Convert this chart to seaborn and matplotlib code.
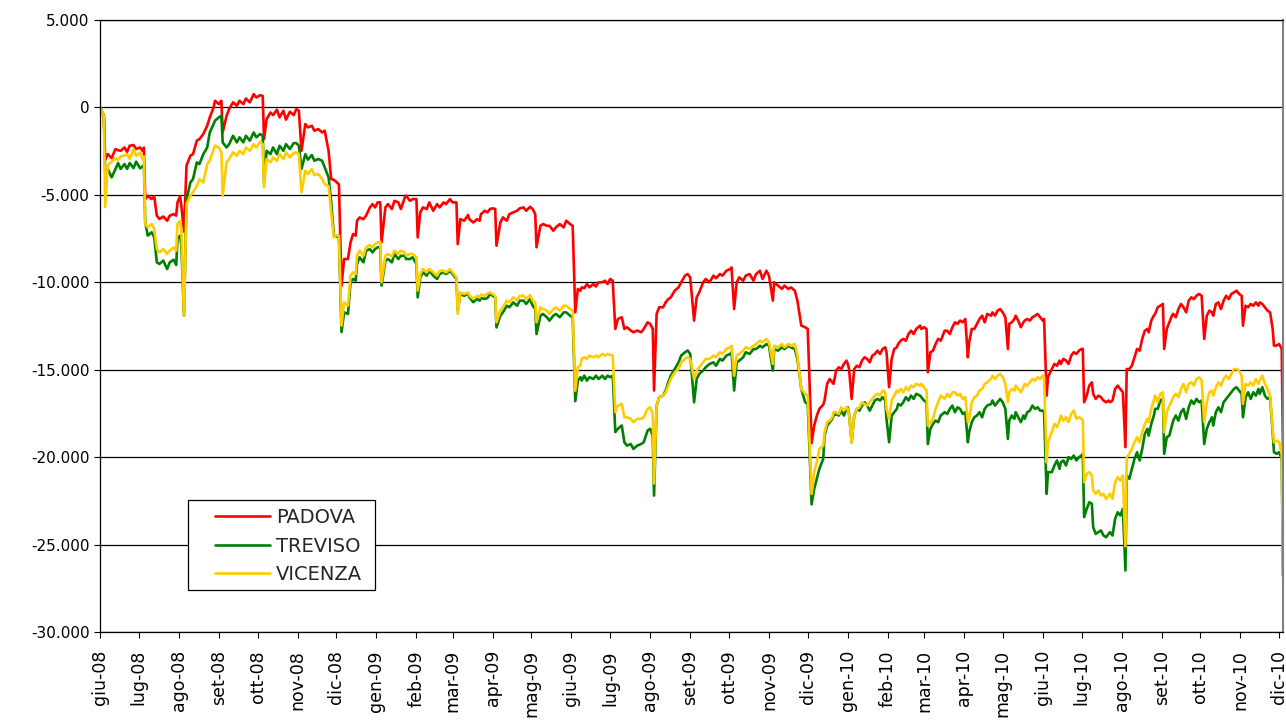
import pandas as pd
import numpy as np
import matplotlib
matplotlib.use("Agg")
import matplotlib.pyplot as plt
from matplotlib.patches import Rectangle
import seaborn as sns

# === Data ===
# giorni dal 1 giugno 2008
giorni = [
    0, 3, 4, 6, 9, 12, 14, 16, 19, 21, 23, 26, 28, 31, 33, 34, 35, 37, 40, 42,
    44, 46, 49, 52, 54, 57, 59, 60, 62, 63, 65, 67, 70, 72, 75, 77, 80, 83, 85, 88,
    89, 92, 94, 95, 98, 100, 103, 106, 108, 111, 113, 116, 119, 121, 124, 126, 127, 129, 132, 134,
    137, 139, 142, 144, 147, 150, 152, 154, 156, 159, 161, 164, 166, 169, 172, 174, 177, 179, 181, 182,
    185, 187, 189, 192, 194, 196, 198, 199, 201, 204, 206, 209, 211, 213, 215, 217, 218, 221, 223, 226,
    228, 231, 233, 236, 237, 240, 242, 245, 246, 248, 250, 253, 255, 258, 261, 263, 266, 268, 271, 273,
    276, 277, 279, 282, 285, 286, 289, 292, 294, 295, 298, 300, 302, 304, 306, 307, 310, 312, 315, 317,
    320, 323, 325, 328, 330, 333, 335, 337, 338, 341, 343, 346, 348, 351, 353, 356, 359, 361, 364, 366,
    368, 370, 372, 373, 375, 377, 379, 382, 384, 386, 389, 391, 393, 395, 397, 399, 401, 404, 406, 408,
    411, 413, 416, 419, 421, 424, 426, 428, 429, 431, 433, 436, 438, 440, 442, 445, 448, 450, 453, 455,
    457, 460, 462, 464, 467, 469, 472, 475, 477, 480, 482, 485, 488, 489, 491, 493, 495, 498, 500, 503,
    506, 508, 511, 513, 516, 518, 521, 522, 525, 528, 530, 533, 535, 538, 540, 543, 546, 548, 551, 553,
    555, 557, 560, 561, 563, 565, 567, 568, 570, 572, 574, 576, 578, 579, 580, 582, 584, 586, 588, 590,
    592, 594, 596, 598, 600, 602, 604, 606, 608, 609, 611, 613, 615, 617, 618, 620, 622, 624, 626, 628,
    630, 632, 635, 636, 638, 640, 641, 643, 645, 647, 649, 651, 654, 656, 658, 660, 662, 664, 666, 668,
    670, 672, 673, 675, 677, 679, 681, 683, 685, 687, 690, 691, 693, 695, 697, 699, 701, 703, 704, 706,
    708, 709, 711, 713, 715, 716, 718, 720, 722, 724, 726, 728, 730, 731, 733, 734, 737, 739, 741, 743,
    744, 746, 748, 750, 752, 754, 756, 758, 760, 761, 762, 764, 766, 768, 769, 771, 773, 775, 777, 779,
    781, 782, 784, 786, 788, 790, 792, 794, 795, 797, 799, 801, 803, 805, 807, 809, 811, 812, 814, 816,
    817, 819, 821, 823, 824, 826, 828, 830, 831, 833, 835, 837, 839, 841, 843, 845, 847, 849, 851, 853,
    855, 857, 859, 861, 862, 864, 866, 868, 870, 872, 874, 876, 878, 880, 882, 884, 885, 887, 889, 891,
    893, 895, 897, 898, 900, 902, 904, 906, 908, 909, 911, 913, 915, 916,
]

padova = [
    0, -480, -3000, -2670, -2900, -2380, -2450, -2480, -2290, -2540, -2190, -2150, -2380, -2290, -2480, -2300, -5240, -5050, -5240, -5090,
    -6190, -6380, -6240, -6480, -6190, -6100, -6190, -5430, -5090, -5620, -7100, -3330, -2760, -2670, -1900, -1810, -1520, -1050, -570, 0,
    380, 190, 380, -1430, -480, -95, 290, 95, 380, 190, 510, 290, 760, 570, 700, 660, -1810, -670, -290, -440,
    -130, -570, -190, -700, -250, -440, -95, -190, -2480, -950, -1140, -1050, -1330, -1240, -1430, -1330, -2480, -4100, -4140, -4190,
    -4400, -10200, -8670, -8670, -7720, -7240, -7330, -6480, -6290, -6390, -6190, -5720, -5530, -5720, -5430, -5430, -7720, -5720, -5530, -5810,
    -5340, -5430, -5810, -5150, -5050, -5340, -5240, -5240, -7430, -6000, -5720, -5810, -5430, -5910, -5530, -5720, -5430, -5530, -5240, -5430,
    -5430, -7820, -6390, -6480, -6150, -6390, -6580, -6390, -6480, -6100, -5910, -6000, -5810, -5770, -5810, -7910, -6580, -6290, -6480, -6100,
    -6000, -5910, -5770, -5720, -5910, -5680, -5810, -6100, -8000, -6770, -6670, -6770, -6770, -7050, -6860, -6670, -6860, -6480, -6670, -6770,
    -11720, -10380, -10480, -10290, -10340, -10100, -10290, -10100, -10240, -10000, -10000, -9910, -10100, -9810, -9910, -12670, -12100, -12000, -12670, -12570,
    -12760, -12860, -12760, -12860, -12670, -12290, -12380, -12670, -16190, -11810, -11430, -11430, -11150, -10960, -10860, -10480, -10290, -10000, -9620, -9530,
    -9720, -12190, -10860, -10580, -10000, -9810, -10000, -9620, -9770, -9530, -9620, -9340, -9240, -9150, -11530, -10000, -9720, -9910, -9620, -9530,
    -9910, -9530, -9340, -9810, -9340, -9620, -11050, -10000, -10190, -10380, -10190, -10380, -10290, -10480, -11050, -12480, -12570, -12670, -19200, -18200,
    -17640, -17240, -17000, -16760, -15810, -15530, -15720, -15810, -15050, -14860, -14960, -14670, -14480, -14670, -14960, -16670, -14960, -14770, -14860, -14480,
    -14290, -14380, -14580, -14190, -14100, -13910, -14100, -13810, -13720, -14000, -16000, -14380, -13810, -13720, -13530, -13340, -13240, -13340, -12960, -12770,
    -12960, -12670, -12480, -12670, -12570, -12670, -15150, -14000, -13910, -13530, -13240, -13340, -12770, -12770, -12960, -12570, -12290, -12380, -12190, -12290,
    -12100, -14290, -13430, -12670, -12670, -12380, -12100, -11910, -12290, -11810, -11910, -11720, -11910, -11620, -11530, -11720, -12000, -13810, -12380, -12290,
    -12100, -11910, -12190, -12570, -12290, -12190, -12100, -12190, -12000, -11910, -11810, -12000, -12190, -12100, -16480, -15430, -14960, -14670, -14770, -14480,
    -14670, -14380, -14480, -14670, -14190, -14000, -14100, -13910, -13810, -13810, -16860, -16480, -15910, -15720, -16380, -16670, -16480, -16570, -16760, -16860,
    -16760, -16860, -16760, -16100, -15910, -16100, -16290, -19430, -14960, -14960, -14770, -14290, -13810, -13910, -13240, -12770, -12670, -12860, -12190, -11910,
    -11810, -11430, -11340, -11240, -13810, -12670, -12290, -11910, -11810, -12000, -11530, -11240, -11430, -11720, -11050, -10860, -10960, -10770, -10670, -10770,
    -13240, -11910, -11620, -11720, -11910, -11240, -11150, -11530, -11050, -10770, -10960, -10670, -10580, -10480, -10670, -10770, -12480, -11340, -11430, -11240,
    -11340, -11150, -11340, -11150, -11240, -11430, -11620, -11720, -12670, -13620, -13620, -13530, -13810, -19700,
]

treviso = [
    0, -480, -3700, -3520, -4000, -3520, -3180, -3520, -3240, -3520, -3180, -3470, -3100, -3480, -3370, -3300, -6570, -7330, -7140, -7430,
    -8860, -8950, -8760, -9240, -8860, -8710, -9010, -7520, -7330, -7900, -11900, -5240, -4290, -4100, -3140, -3240, -2670, -2290, -1430, -950,
    -760, -570, -480, -2000, -2290, -2100, -1620, -2000, -1710, -2000, -1620, -1900, -1430, -1710, -1520, -1620, -4300, -2480, -2670, -2290,
    -2670, -2190, -2480, -2100, -2380, -2040, -2040, -2190, -3520, -2670, -2990, -2720, -3050, -2950, -3050, -3430, -4000, -5430, -7240, -7340,
    -7430, -12850, -11720, -11810, -10000, -9810, -9910, -8950, -8570, -8860, -8200, -8100, -8290, -8100, -8000, -8000, -10190, -8770, -8670, -8860,
    -8380, -8670, -8480, -8480, -8670, -8670, -8570, -8950, -10860, -9720, -9430, -9620, -9340, -9620, -9810, -9530, -9430, -9530, -9340, -9530,
    -9810, -11620, -10670, -10770, -10670, -10860, -11140, -10950, -11050, -10900, -10950, -10900, -10670, -10770, -10860, -12580, -11910, -11720, -11340, -11430,
    -11150, -11340, -11050, -11050, -11240, -10960, -11340, -11530, -12960, -11910, -11810, -12000, -12190, -11910, -11810, -12000, -11720, -11720, -11910, -12000,
    -16800, -15620, -15430, -15620, -15340, -15620, -15430, -15530, -15340, -15530, -15340, -15530, -15340, -15430, -15340, -18570, -18380, -18190, -19150, -19340,
    -19250, -19530, -19340, -19250, -19150, -18480, -18380, -18770, -22200, -17050, -16570, -16480, -16190, -15720, -15340, -14960, -14580, -14190, -14000, -13900,
    -14100, -16860, -15530, -15240, -15050, -14860, -14670, -14580, -14770, -14380, -14480, -14190, -14100, -14000, -16190, -14580, -14480, -14290, -14000, -14100,
    -13820, -13820, -13630, -13720, -13530, -13630, -15050, -13820, -13910, -13720, -13820, -13630, -13720, -13820, -14380, -16100, -16860, -16960, -22700, -21820,
    -21240, -20670, -20100, -18770, -18200, -18000, -17810, -17620, -17530, -17620, -17340, -17620, -17240, -17150, -17530, -19150, -17620, -17240, -17340, -17050,
    -16860, -17050, -17340, -17050, -16760, -16670, -16760, -16570, -16760, -17810, -19150, -17620, -17430, -17240, -16960, -17050, -16860, -16570, -16760, -16480,
    -16670, -16380, -16480, -16570, -16760, -16860, -19250, -18380, -18100, -17910, -18000, -17620, -17430, -17530, -17240, -17050, -17430, -17150, -17240, -17530,
    -17430, -19150, -18570, -18000, -17720, -17620, -17430, -17720, -17240, -17050, -16960, -16760, -17050, -16860, -16670, -16860, -17240, -18960, -17910, -17620,
    -17810, -17430, -17720, -18000, -17620, -17810, -17430, -17340, -17050, -17240, -17150, -17340, -17340, -17430, -22100, -20860, -20860, -20480, -20190, -20670,
    -20290, -20190, -20480, -20000, -20100, -19910, -20190, -20000, -19910, -19810, -23430, -22960, -22580, -22670, -24000, -24390, -24290, -24190, -24480, -24580,
    -24390, -24290, -24480, -23530, -23150, -23340, -22960, -26480, -21050, -21240, -20670, -20100, -19720, -20190, -19530, -18670, -18380, -18770, -18100, -17620,
    -17240, -17240, -16760, -16670, -19810, -18860, -18770, -18190, -17910, -17620, -17910, -17430, -17240, -17810, -17150, -16760, -16960, -16670, -16860, -16760,
    -19250, -18380, -18000, -17720, -18190, -17430, -17150, -17430, -16860, -16670, -16480, -16290, -16100, -16000, -16190, -16380, -17720, -16580, -16290, -16670,
    -16290, -16480, -16100, -16380, -16000, -16480, -16670, -16580, -18570, -19720, -19810, -19720, -20100, -26800,
]

vicenza = [
    0, -480, -5700, -3300, -3100, -2900, -3000, -2800, -2750, -2670, -2950, -2380, -2760, -2570, -2950, -2800, -6670, -6860, -6670, -6950,
    -8100, -8290, -8100, -8380, -8190, -8000, -8190, -6670, -6480, -6950, -11900, -5520, -5050, -4860, -4480, -4100, -4290, -3240, -3050, -2380,
    -2190, -2290, -2570, -5050, -3140, -2950, -2570, -2760, -2480, -2670, -2290, -2480, -2100, -2290, -1960, -2100, -4570, -2950, -3140, -2860,
    -3050, -2670, -2950, -2570, -2860, -2610, -2570, -2670, -4860, -3620, -3810, -3520, -3870, -3810, -4100, -4380, -4500, -6000, -7430, -7300,
    -7340, -12480, -11150, -11340, -9620, -9430, -9530, -8480, -8190, -8480, -8000, -7870, -8000, -7810, -7720, -7680, -10000, -8480, -8380, -8520,
    -8190, -8380, -8190, -8290, -8480, -8380, -8380, -8570, -10480, -9530, -9240, -9430, -9240, -9430, -9620, -9340, -9340, -9430, -9240, -9430,
    -9720, -11810, -10580, -10670, -10580, -10770, -10950, -10770, -10860, -10700, -10770, -10650, -10580, -10670, -10770, -12290, -11620, -11430, -11050, -11150,
    -10860, -11050, -10770, -10770, -10950, -10730, -11050, -11150, -12290, -11430, -11530, -11620, -11810, -11530, -11430, -11620, -11340, -11340, -11530, -11620,
    -16200, -14860, -14770, -14380, -14290, -14380, -14190, -14290, -14190, -14290, -14100, -14190, -14100, -14150, -14190, -17430, -17050, -16960, -17720, -17720,
    -17810, -18000, -17810, -17810, -17720, -17240, -17150, -17530, -21500, -17050, -16570, -16480, -16290, -15910, -15530, -15150, -14960, -14580, -14380, -14290,
    -14380, -15530, -15050, -14860, -14580, -14380, -14380, -14190, -14290, -14000, -14100, -13810, -13720, -13630, -15340, -14190, -14100, -13910, -13720, -13810,
    -13630, -13530, -13340, -13430, -13240, -13430, -14670, -13630, -13720, -13530, -13720, -13530, -13630, -13530, -14190, -16100, -16380, -16480, -22100, -20860,
    -20290, -19530, -19340, -18570, -18000, -17910, -17720, -17430, -17430, -17530, -17150, -17340, -17150, -17240, -17620, -19150, -17620, -17240, -17150, -16860,
    -16960, -17050, -16860, -16670, -16480, -16380, -16480, -16190, -16290, -17240, -17800, -16760, -16480, -16190, -16290, -16100, -16290, -16000, -16190, -15910,
    -16000, -15810, -15910, -15810, -16000, -16190, -18200, -18000, -17810, -17240, -16860, -16480, -16670, -16380, -16570, -16290, -16290, -16480, -16380, -16670,
    -16570, -18000, -17810, -16860, -16570, -16480, -16190, -16100, -15810, -15720, -15530, -15340, -15530, -15340, -15240, -15430, -15810, -16860, -16290, -16100,
    -16190, -15910, -16100, -16290, -16000, -15810, -15910, -15720, -15530, -15620, -15430, -15530, -15340, -15430, -20300, -19150, -18570, -18100, -18290, -17910,
    -17620, -17910, -17720, -18000, -17530, -17340, -17810, -17720, -17810, -17910, -21430, -20960, -20860, -21050, -21910, -22100, -21910, -22200, -22100, -22390,
    -22200, -22100, -22390, -21430, -21150, -21340, -21050, -25100, -20000, -19810, -19530, -19150, -18860, -19150, -18570, -18100, -17810, -18000, -17240, -16760,
    -16480, -16860, -16380, -16290, -18570, -17430, -17050, -16760, -16570, -16380, -16570, -16100, -15810, -16290, -15810, -15720, -15910, -15530, -15430, -15620,
    -18000, -16860, -16290, -16190, -16480, -16000, -15720, -15910, -15530, -15340, -15530, -15240, -14960, -14960, -15050, -15340, -16960, -15810, -15910, -15720,
    -15910, -15530, -15810, -15620, -15340, -15810, -16100, -16480, -18380, -19150, -19050, -19150, -19810, -26100,
]

province = ["PADOVA", "TREVISO", "VICENZA"]
colori = {"PADOVA": "#FF0000", "TREVISO": "#008000", "VICENZA": "#FFCC00"}

mesi = ["giu-08", "lug-08", "ago-08", "set-08", "ott-08", "nov-08", "dic-08",
        "gen-09", "feb-09", "mar-09", "apr-09", "mag-09", "giu-09", "lug-09",
        "ago-09", "set-09", "ott-09", "nov-09", "dic-09", "gen-10", "feb-10",
        "mar-10", "apr-10", "mag-10", "giu-10", "lug-10", "ago-10", "set-10",
        "ott-10", "nov-10", "dic-10"]

# === Build long table ===
inizio = pd.Timestamp("2008-06-01")
date = inizio + pd.to_timedelta(giorni, unit="D")
df = pd.DataFrame({"data": date, "PADOVA": padova, "TREVISO": treviso, "VICENZA": vicenza})
df_long = df.melt(id_vars="data", var_name="provincia", value_name="valore")

# === Plot ===
sns.set_theme(style="white")
plt.rcParams["font.family"] = ["DejaVu Sans"]

fig = plt.figure(figsize=(12.86, 7.2), dpi=100)
ax = fig.add_axes([100 / 1286, 88 / 720, 1183 / 1286, 612 / 720])

sns.lineplot(data=df_long, x="data", y="valore", hue="provincia", hue_order=province,
             palette=colori, estimator=None, linewidth=1.9, ax=ax)

ax.set_xlim(inizio, inizio + pd.Timedelta(days=916))
ax.set_ylim(-30000, 5000)
ax.set_yticks(np.arange(-30000, 5001, 5000))
ax.set_yticklabels([f"{v:,.0f}".replace(",", ".") for v in np.arange(-30000, 5001, 5000)],
                   fontsize=11)
ax.set_xticks(pd.date_range("2008-06-01", periods=len(mesi), freq="MS"))
ax.set_xticklabels(mesi, rotation=90, fontsize=12.5)
ax.set_xlabel("")
ax.set_ylabel("")
ax.tick_params(axis="x", pad=9)

ax.yaxis.grid(True, color="black", linewidth=0.9)
ax.xaxis.grid(False)
ax.set_axisbelow(True)
ax.tick_params(axis="both", which="major", length=4, width=0.8, color="black",
               direction="out", left=True, bottom=True, labelcolor="black")
for side in ["left", "bottom", "top"]:
    ax.spines[side].set_color("black")
    ax.spines[side].set_linewidth(0.9)
ax.spines["right"].set_color("#808080")
ax.spines["right"].set_linewidth(1.5)

# legend box like the spreadsheet one
ax.add_patch(Rectangle((88 / 1183, 42 / 612), 187 / 1183, 90 / 612, transform=ax.transAxes,
                       facecolor="white", edgecolor="black", linewidth=0.9, zorder=4))
handles, labels = ax.get_legend_handles_labels()
leg = ax.legend(handles, labels, loc="center left", bbox_to_anchor=(115 / 1183, 86 / 612),
                frameon=False, fontsize=14, handlelength=2.85, handletextpad=0.3,
                borderpad=0, labelspacing=0.48, borderaxespad=0)
leg.set_zorder(5)

fig.savefig("out.png", dpi=100)
